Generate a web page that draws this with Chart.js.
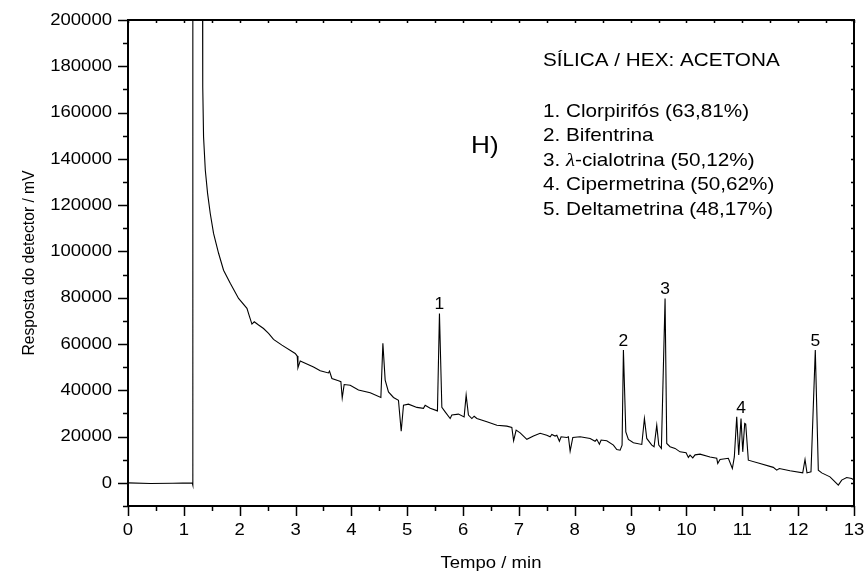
<!DOCTYPE html>
<html>
<head>
<meta charset="utf-8">
<script src="https://cdn.jsdelivr.net/npm/chart.js@4.4.1/dist/chart.umd.min.js"></script>
<style>
  html, body { margin: 0; padding: 0; background: #fff; }
  #crom { display: block; }
</style>
</head>
<body>
<canvas id="crom" width="866" height="573"></canvas>
<script>
// Cromatograma H) — sílica / hex:acetona

// tempo (min) e resposta do detector (mV)
const tempo = [
  0, 0.4, 0.8, 1.15, 1.16, 1.162, 1.33, 1.335, 1.342, 1.353, 1.384, 1.425, 1.473, 1.532,
  1.622, 1.711, 1.831, 1.98, 2.13, 2.176, 2.219, 2.261, 2.338, 2.427, 2.517, 2.606, 2.756,
  2.994, 3.03, 3.043, 3.084, 3.322, 3.442, 3.59, 3.608, 3.651, 3.769, 3.812, 3.836, 3.871,
  3.979, 4.127, 4.337, 4.528, 4.564, 4.605, 4.664, 4.754, 4.843, 4.892, 4.933, 5.022, 5.173,
  5.291, 5.321, 5.411, 5.541, 5.577, 5.62, 5.679, 5.769, 5.799, 5.917, 6.019, 6.055, 6.096,
  6.157, 6.198, 6.247, 6.426, 6.605, 6.784, 6.873, 6.905, 6.95, 7.022, 7.142, 7.26, 7.38,
  7.499, 7.559, 7.589, 7.648, 7.679, 7.725, 7.755, 7.857, 7.886, 7.917, 7.965, 8.096, 8.275,
  8.364, 8.394, 8.441, 8.472, 8.573, 8.692, 8.752, 8.812, 8.847, 8.871, 8.914, 8.96, 9.05,
  9.2, 9.247, 9.289, 9.379, 9.42, 9.468, 9.504, 9.551, 9.617, 9.647, 9.706, 9.796, 9.885,
  9.993, 10.034, 10.064, 10.113, 10.154, 10.243, 10.422, 10.542, 10.56, 10.601, 10.75,
  10.822, 10.857, 10.9, 10.936, 10.977, 11.008, 11.043, 11.061, 11.108, 11.317, 11.555,
  11.616, 11.663, 11.854, 12.082, 12.123, 12.158, 12.23, 12.307, 12.361, 12.422, 12.57,
  12.629, 12.719, 12.78, 12.869, 12.959, 13.0
];
const resposta = [
  0, -300, -200, 0, -1000, 260000, 260000, 200000, 171000, 149500, 135200, 125100, 116400, 107800,
  99200, 91900, 86200, 79700, 75400, 71800, 68600, 69600, 68200, 66700, 64600, 62000, 59500,
  55900, 54800, 49700, 52700, 50100, 48400, 47500, 48300, 45100, 44100, 43700, 36700, 42500,
  42200, 40100, 38900, 36900, 60300, 44400, 39300, 36900, 35700, 22300, 33600, 34000, 32600,
  32200, 33500, 32200, 31100, 73200, 32600, 30700, 27800, 29300, 29700, 28500, 37900, 29300,
  27800, 28800, 27800, 26400, 24900, 24500, 23900, 18200, 22800, 21600, 18800, 20200, 21400,
  20600, 19900, 20900, 20200, 20600, 18000, 19900, 19600, 19900, 13700, 19600, 19900, 19200,
  18000, 18800, 16700, 18500, 18200, 16300, 14400, 14100, 16300, 57400, 22000, 18800, 17300,
  16600, 27800, 19200, 16300, 15600, 24900, 16300, 14900, 79700, 17000, 15600, 14900, 13400,
  13000, 11000, 12000, 10800, 12100, 12400, 11200, 10600, 8400, 10100, 10600,
  6200, 11200, 28500, 12000, 27800, 13400, 25700, 25400, 9800, 8400, 6700,
  5500, 6200, 5200, 4300, 10100, 4300, 4800, 57400, 5500, 4300, 2600,
  1200, -1000, 1200, 2300, 1900, 1200
];

// picos identificados
const picos = ['1', '2', '3', '4', '5'];
const picoTempo = [5.577, 8.871, 9.617, 10.977, 12.307];
const picoResp = [73200, 57400, 79700, 28500, 57400];

// eixos
const rotulosX = [0, 1, 2, 3, 4, 5, 6, 7, 8, 9, 10, 11, 12, 13];
const rotulosY = [0, 20000, 40000, 60000, 80000, 100000, 120000, 140000, 160000, 180000, 200000];
const tituloX = 'Tempo / min';
const tituloY = 'Resposta do detector / mV';

const painel = 'H)';
const legendaTitulo = 'SÍLICA / HEX: ACETONA';
const legendaItens = [
  ['1. Clorpirifós (63,81%)'],
  ['2. Bifentrina'],
  ['3. ', 'λ', '-cialotrina (50,12%)'],
  ['4. Cipermetrina (50,62%)'],
  ['5. Deltametrina (48,17%)']
];

const FONTE = '"Liberation Sans", Arial, Helvetica, sans-serif';
const ESTICA = 1.09; // texto um pouco largo

function texto(ctx, str, x, y, size, align, base) {
  ctx.save();
  ctx.font = size + 'px ' + FONTE;
  ctx.textAlign = align || 'left';
  ctx.textBaseline = base || 'alphabetic';
  ctx.translate(x, y);
  ctx.scale(ESTICA, 1);
  ctx.fillText(str, 0, 0);
  ctx.restore();
}

const moldura = {
  id: 'moldura',
  afterDraw(chart) {
    const ctx = chart.ctx;
    const { left, right, top, bottom } = chart.chartArea;
    const sx = chart.scales.x, sy = chart.scales.y;
    ctx.save();
    ctx.strokeStyle = '#000';
    ctx.fillStyle = '#000';

    // caixa
    ctx.lineWidth = 2;
    ctx.strokeRect(left, top, right - left, bottom - top);

    // marcas do eixo y (esquerda para fora, direita para dentro)
    ctx.lineWidth = 1.5;
    for (let v = sy.min; v <= sy.max; v += 10000) {
      const py = Math.round(sy.getPixelForValue(v)) + 0.5;
      const maior = v % 20000 === 0;
      ctx.beginPath();
      ctx.moveTo(left, py); ctx.lineTo(left - (maior ? 10 : 5), py);
      ctx.moveTo(right, py); ctx.lineTo(right - 3, py);
      ctx.stroke();
    }
    // marcas do eixo x
    for (let t = sx.min; t <= sx.max + 1e-9; t += 0.5) {
      const px = Math.round(sx.getPixelForValue(t)) + 0.5;
      const maior = Math.abs(t - Math.round(t)) < 1e-9;
      ctx.beginPath();
      ctx.moveTo(px, bottom); ctx.lineTo(px, bottom + (maior ? 10 : 5));
      ctx.moveTo(px, top); ctx.lineTo(px, top + 3);
      ctx.stroke();
    }

    // rótulos
    rotulosY.forEach(v => texto(ctx, String(v), left - 16, sy.getPixelForValue(v), 17, 'right', 'middle'));
    rotulosX.forEach(t => texto(ctx, String(t), sx.getPixelForValue(t), 530, 17, 'center', 'middle'));

    texto(ctx, tituloX, (left + right) / 2, 568, 17, 'center');
    ctx.save();
    ctx.translate(29, (top + bottom) / 2);
    ctx.rotate(-Math.PI / 2);
    ctx.scale(0.92, 1);
    ctx.font = '17px ' + FONTE;
    ctx.textAlign = 'center';
    ctx.textBaseline = 'middle';
    ctx.fillText(tituloY, 0, 0);
    ctx.restore();

    // números dos picos
    picos.forEach((p, i) => {
      texto(ctx, p, sx.getPixelForValue(picoTempo[i]), sy.getPixelForValue(picoResp[i]) - 4, 16, 'center');
    });

    // painel e legenda
    texto(ctx, painel, 471, 153, 24, 'left');
    texto(ctx, legendaTitulo, 543, 66, 19, 'left');
    legendaItens.forEach((partes, i) => {
      const y = 117 + i * 24.4;
      let x = 543;
      partes.forEach(parte => {
        ctx.save();
        ctx.font = parte === 'λ' ? 'italic 19px "Liberation Serif", serif' : '19px ' + FONTE;
        const w = ctx.measureText(parte).width * ESTICA;
        ctx.restore();
        ctx.save();
        ctx.font = parte === 'λ' ? 'italic 19px "Liberation Serif", serif' : '19px ' + FONTE;
        ctx.translate(x, y);
        ctx.scale(ESTICA, 1);
        ctx.fillText(parte, 0, 0);
        ctx.restore();
        x += w;
      });
    });
    ctx.restore();
  }
};

const pontos = tempo.map((t, i) => ({ x: t, y: resposta[i] }));

new Chart(document.getElementById('crom'), {
  type: 'line',
  data: {
    datasets: [{
      data: pontos,
      borderColor: '#000',
      borderWidth: 1.1,
      pointRadius: 0,
      tension: 0,
      fill: false
    }]
  },
  options: {
    responsive: false,
    animation: false,
    layout: { padding: { left: 128, right: 12, top: 20, bottom: 67 } },
    scales: {
      x: { type: 'linear', min: 0, max: 13, display: false },
      y: { type: 'linear', min: -10000, max: 200000, display: false }
    },
    plugins: { legend: { display: false }, tooltip: { enabled: false } }
  },
  plugins: [moldura]
});
</script>
</body>
</html>
